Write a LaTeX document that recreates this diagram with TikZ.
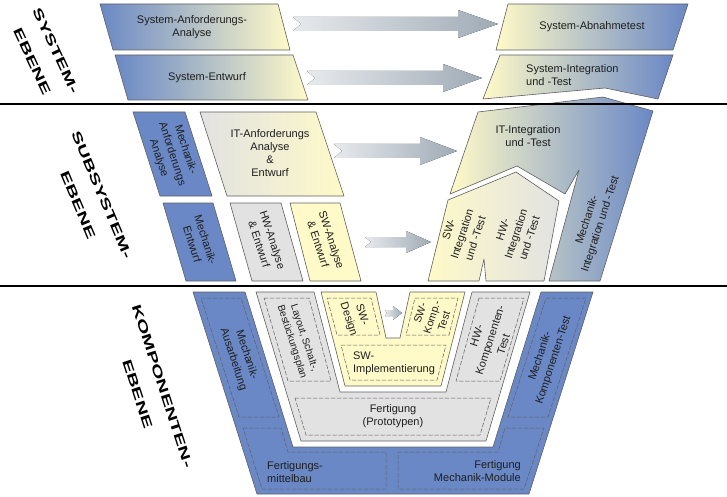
\documentclass[tikz,border=0pt]{standalone}
\usepackage{fontspec}
\setmainfont{Liberation Sans}
\usepackage{tkz-euclide}
\definecolor{MechClr}{RGB}{106,136,197}
\definecolor{SwClr}{RGB}{255,250,200}
\definecolor{HwClr}{RGB}{226,226,226}
\definecolor{EdgeClr}{RGB}{95,95,95}
\definecolor{ArrowClr}{RGB}{160,171,182}
\definecolor{TextClr}{RGB}{30,30,30}
\tikzset{
  txt/.style={font=\fontsize{11}{13}\selectfont,text=TextClr,align=center,inner sep=0pt},
  rtxt/.style={txt,font=\fontsize{11}{14}\selectfont},
  lvl/.style={font=\fontsize{13}{26}\selectfont\bfseries,text=black,align=center,inner sep=0pt},
  dashbox/.style={draw=EdgeClr,dash pattern=on 4pt off 2pt,line width=.5pt},
  arrowfill/.style={left color=ArrowClr!25,right color=ArrowClr}
}

\begin{document}
\begin{tikzpicture}[x=1pt,y=-1pt]
\tkzSetUpLine[line width=.6pt,color=EdgeClr]
\useasboundingbox (0,0) rectangle (727,497);

\tkzDefPoints{100/4/A1,278/4/A2,290/50/A3,113/50/A4,%
  115/55/B1,293/55/B2,308/100/B3,128/100/B4,%
  508/4/C1,688/4/C2,673/50/C3,496/50/C4,%
  500/55/D1,673/55/D2,658/99/D3,605/88/D4,483/99/D5}
\tkzDefPoints{133/112/E1,185/112/E2,212/196/E3,160/196/E4,%
  200/112/F1,316/112/F2,344/196/F3,227/196/F4,%
  163/203/G1,213/203/G2,236/281/G3,186/281/G4,%
  230/203/H1,281/203/H2,303/281/H3,252/281/H4,%
  290/203/K1,340/203/K2,361/281/K3,310/281/K4}
\tkzDefPoints{428/281/L1,448/200/L2,516/172/L3,559/201/L4,544/281/L5,486/281/L6,484/259/L7,479/281/L8,%
  450/194/M1,478/112/M2,603/97/M3,653/111/M4,600/281/M5,549/281/M6,579/170/M7,565/194/M8,517/166/M9}
\tkzDefPoints{193/292/N1,245/292/N2,293/447/N3,493/447/N4,541/292/N5,593/292/N6,529/494/N7,257/494/N8,%
  256/292/P1,314/292/P2,340/392/P3,446/392/P4,472/292/P5,530/292/P6,486/441/P7,301/441/P8,%
  321/292/Q1,376/292/Q2,386/338/Q3,400/338/Q4,410/292/Q5,465/292/Q6,441/386/Q7,345/386/Q8}
\tkzDefPoints{264/298/R1,309/298/R2,331/381/R3,288/381/R4,%
  479/298/R5,524/298/R6,500/381/R7,456/381/R8,%
  295/398/S1,491/398/S2,480/435/S3,306/435/S4,%
  327/298/T1,371/298/T2,380/335/T3,337/335/T4,%
  415/298/T5,458/298/T6,449/335/T7,406/335/T8,%
  341/345/U1,446/345/U2,437/380/U3,350/380/U4}
\tkzDefPoints{201/298/V1,241/298/V2,279/417/V3,239/417/V4,%
  243/428/W1,281/428/W2,288/452/W3,386/452/W4,386/489/W5,262/489/W6,%
  398/452/X1,498/452/X2,505/428/X3,544/428/X4,524/489/X5,398/489/X6,%
  546/298/Y1,586/298/Y2,548/417/Y3,508/417/Y4}
\tkzDefPoints{0/104/O1,727/104/O2,0/286/O3,727/286/O4}

\tkzDrawPolygon[left color=MechClr,middle color=white,right color=SwClr](A1,A2,A3,A4)
\tkzDrawPolygon[left color=MechClr,middle color=white,right color=SwClr](B1,B2,B3,B4)
\tkzDrawPolygon[left color=SwClr,middle color=white,right color=MechClr](C1,C2,C3,C4)
\tkzDrawPolygon[left color=SwClr,middle color=white,right color=MechClr](D1,D2,D3,D4,D5)

\tkzDrawPolygon[fill=MechClr](E1,E2,E3,E4)
\tkzDrawPolygon[left color=HwClr,right color=SwClr](F1,F2,F3,F4)
\tkzDrawPolygon[fill=MechClr](G1,G2,G3,G4)
\tkzDrawPolygon[fill=HwClr](H1,H2,H3,H4)
\tkzDrawPolygon[fill=SwClr](K1,K2,K3,K4)
\tkzDrawPolygon[left color=SwClr,right color=HwClr](L1,L2,L3,L4,L5,L6,L7,L8)
\tkzDrawPolygon[left color=SwClr,middle color=HwClr!70,right color=MechClr](M1,M2,M3,M4,M5,M6,M7,M8,M9)

\tkzDrawPolygon[fill=MechClr](N1,N2,N3,N4,N5,N6,N7,N8)
\tkzDrawPolygon[fill=HwClr](P1,P2,P3,P4,P5,P6,P7,P8)
\tkzDrawPolygon[fill=SwClr](Q1,Q2,Q3,Q4,Q5,Q6,Q7,Q8)
\tkzDrawPolygon[dashbox](R1,R2,R3,R4)
\tkzDrawPolygon[dashbox](R5,R6,R7,R8)
\tkzDrawPolygon[dashbox](S1,S2,S3,S4)
\tkzDrawPolygon[dashbox](T1,T2,T3,T4)
\tkzDrawPolygon[dashbox](T5,T6,T7,T8)
\tkzDrawPolygon[dashbox](U1,U2,U3,U4)
\tkzDrawPolygon[dashbox](V1,V2,V3,V4)
\tkzDrawPolygon[dashbox](W1,W2,W3,W4,W5,W6)
\tkzDrawPolygon[dashbox](X1,X2,X3,X4,X5,X6)
\tkzDrawPolygon[dashbox](Y1,Y2,Y3,Y4)

\fill[arrowfill] (293,17) -- (458,17) -- (458,10) -- (498,24) -- (458,38) -- (458,31) -- (293,31) -- (301,24) -- cycle;
\fill[arrowfill] (307,71) -- (443,71) -- (443,64) -- (482,78) -- (443,92) -- (443,85) -- (307,85) -- (315,78) -- cycle;
\fill[arrowfill] (334,144) -- (420,144) -- (420,137) -- (457,151) -- (420,165) -- (420,158) -- (334,158) -- (342,151) -- cycle;
\fill[arrowfill] (365,237) -- (406,237) -- (406,231) -- (431,242) -- (406,253) -- (406,247) -- (365,247) -- (371,242) -- cycle;
\fill[arrowfill] (385,310) -- (393,310) -- (393,306) -- (402,313) -- (393,320) -- (393,316) -- (385,316) -- (387,313) -- cycle;

\tkzDrawSegments[line width=1.8pt,color=black](O1,O2 O3,O4)

\node[lvl,rotate=-65] (LvlSys) at (44,56) {\scalebox{1.6}[1]{SYSTEM-}\\\scalebox{1.6}[1]{EBENE}};
\node[lvl,rotate=-67] (LvlSub) at (90,200) {\scalebox{1.6}[1]{SUBSYSTEM-}\\\scalebox{1.6}[1]{EBENE}};
\node[lvl,rotate=-72] (LvlKomp) at (150,390) {\scalebox{1.6}[1]{KOMPONENTEN-}\\\scalebox{1.6}[1]{EBENE}};

\node[txt] (SysAnf) at (192,27) {System-Anforderungs-\\Analyse};
\node[txt] (SysEnt) at (207,78) {System-Entwurf};
\node[txt] (SysAbn) at (592,27) {System-Abnahmetest};
\node[txt,align=left,anchor=west] (SysInt) at (526,75) {System-Integration\\und -Test};

\node[rtxt,rotate=-72] (MechAnf) at (172,154) {Mechanik-\\Anforderungs\\Analyse};
\node[txt] (ITAnf) at (270,153) {IT-Anforderungs\\Analyse\\\&\\Entwurf};
\node[rtxt,rotate=-72] (MechEnt) at (199,242) {Mechanik-\\Entwurf};
\node[rtxt,rotate=-72] (HWAna) at (266,242) {HW-Analyse\\\& Entwurf};
\node[rtxt,rotate=-72] (SWAna) at (325,242) {SW-Analyse\\\& Entwurf};
\node[txt] (ITInt) at (528,136) {IT-Integration\\und -Test};
\node[rtxt,rotate=72] (SWInt) at (462,234) {SW-\\Integration\\und -Test};
\node[rtxt,rotate=72] (HWInt) at (516,234) {HW-\\Integration\\und -Test};
\node[rtxt,rotate=72] (MechInt) at (594,222) {Mechanik-\\Integration und -Test};

\node[rtxt,rotate=-72] (MechAus) at (240,357) {Mechanik-\\Ausarbeitung};
\node[rtxt,rotate=-72,font=\fontsize{10}{13}\selectfont] (Layout) at (298,340) {Layout, Schalt-,\\Bestückungsplan};
\node[rtxt,rotate=-72] (SWDes) at (355,317) {SW-\\Design};
\node[rtxt,rotate=72,font=\fontsize{10.5}{12.5}\selectfont] (SWKomp) at (432,317) {SW-\\Komp.-\\Test};
\node[txt,align=left] (SWImpl) at (394,363) {SW-\\Implementierung};
\node[rtxt,rotate=72] (HWKomp) at (490,340) {HW-\\Komponenten-\\Test};
\node[txt] (FertProt) at (393,416) {Fertigung\\(Prototypen)};
\node[rtxt,rotate=72] (MechKomp) at (547,358) {Mechanik-\\Komponenten-Test};
\node[txt,align=left,anchor=west] (FertMit) at (267,472) {Fertigungs-\\mittelbau};
\node[txt,align=right,anchor=east] (FertMech) at (521,471) {Fertigung\\Mechanik-Module};

\end{tikzpicture}
\end{document}
